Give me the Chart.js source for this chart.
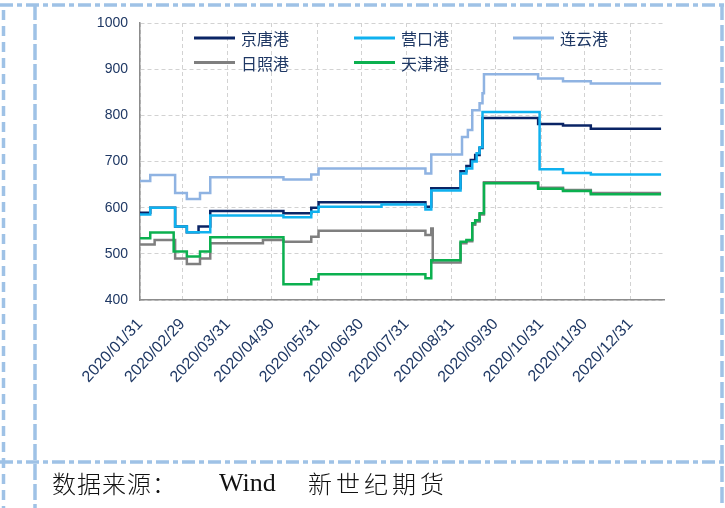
<!DOCTYPE html>
<html>
<head>
<meta charset="utf-8">
<script src="https://cdn.jsdelivr.net/npm/chart.js@4.4.1/dist/chart.umd.min.js"></script>
<style>
  html, body { margin: 0; padding: 0; background: #fff; }
  #wrap { position: relative; width: 725px; height: 508px; overflow: hidden; }
  #c { position: absolute; left: 0; top: 0; }
  .src { position: absolute; top: 469px; font-size: 24px; line-height: 28px; color: #111; white-space: nowrap; }
</style>
</head>
<body>
<div id="wrap">
  <canvas id="c" width="725" height="508"></canvas>
  <span class="src" style="left:52px;font-family:'Noto Sans CJK SC';font-weight:300;letter-spacing:1px">数据来源：</span>
  <span class="src" style="left:219px;font-family:'Liberation Serif';font-size:26px">Wind</span>
  <span class="src" style="left:308px;font-family:'Noto Sans CJK SC';font-weight:300;letter-spacing:4px">新世纪期货</span>
</div>
<script>
// Month-end tick labels along the date axis
const monthEndLabels = [
  '2020/01/31', '2020/02/29', '2020/03/31', '2020/04/30', '2020/05/31', '2020/06/30',
  '2020/07/31', '2020/08/31', '2020/09/30', '2020/10/31', '2020/11/30', '2020/12/31'
];
const axisStart = '2020/01/31';
const axisEnd = '2021/01/23';

const seriesNames = ['京唐港', '营口港', '连云港', '日照港', '天津港'];

// Price series as [date the price took effect, price]
const jingtang = [
  ['2020-01-31', 589], ['2020-02-07', 600], ['2020-02-24', 559], ['2020-03-03', 547],
  ['2020-03-11', 559], ['2020-03-19', 593], ['2020-05-08', 588], ['2020-05-27', 600],
  ['2020-06-01', 612], ['2020-08-13', 602], ['2020-08-17', 642], ['2020-09-06', 679],
  ['2020-09-10', 690], ['2020-09-13', 703], ['2020-09-16', 714], ['2020-09-19', 729],
  ['2020-09-21', 794], ['2020-10-29', 781], ['2020-11-15', 778], ['2020-12-04', 771],
  ['2021-01-21', 771]
];
const yingkou = [
  ['2020-01-31', 585], ['2020-02-07', 600], ['2020-02-24', 559], ['2020-03-03', 547],
  ['2020-03-19', 583], ['2020-05-08', 579], ['2020-05-27', 591], ['2020-06-01', 602],
  ['2020-07-14', 607], ['2020-08-13', 596], ['2020-08-17', 637], ['2020-09-06', 674],
  ['2020-09-10', 685], ['2020-09-14', 700], ['2020-09-17', 718], ['2020-09-19', 731],
  ['2020-09-21', 807], ['2020-10-30', 683], ['2020-11-15', 675], ['2020-12-04', 672],
  ['2021-01-21', 672]
];
const lianyun = [
  ['2020-01-31', 658], ['2020-02-07', 671], ['2020-02-24', 632], ['2020-03-03', 619],
  ['2020-03-12', 632], ['2020-03-19', 666], ['2020-05-08', 661], ['2020-05-27', 672],
  ['2020-06-01', 685], ['2020-08-13', 674], ['2020-08-17', 715], ['2020-09-07', 753],
  ['2020-09-11', 768], ['2020-09-14', 811], ['2020-09-19', 826], ['2020-09-21', 848],
  ['2020-09-22', 889], ['2020-10-29', 880], ['2020-11-15', 874], ['2020-12-04', 869],
  ['2021-01-21', 869]
];
const rizhao = [
  ['2020-01-31', 520], ['2020-02-10', 530], ['2020-02-24', 490], ['2020-03-03', 478],
  ['2020-03-12', 490], ['2020-03-19', 523], ['2020-04-24', 530], ['2020-05-08', 526],
  ['2020-05-27', 537], ['2020-06-01', 550], ['2020-08-13', 541], ['2020-08-17', 555],
  ['2020-08-18', 481], ['2020-09-06', 523], ['2020-09-10', 527], ['2020-09-14', 563],
  ['2020-09-16', 570], ['2020-09-19', 585], ['2020-09-22', 655], ['2020-10-29', 643],
  ['2020-11-15', 638], ['2020-12-04', 632], ['2021-01-21', 632]
];
const tianjin = [
  ['2020-01-31', 534], ['2020-02-07', 546], ['2020-02-23', 505], ['2020-03-03', 494],
  ['2020-03-12', 505], ['2020-03-19', 536], ['2020-05-08', 434], ['2020-05-27', 445],
  ['2020-06-01', 456], ['2020-08-13', 447], ['2020-08-17', 486], ['2020-09-06', 526],
  ['2020-09-10', 530], ['2020-09-14', 566], ['2020-09-16', 573], ['2020-09-19', 588],
  ['2020-09-22', 653], ['2020-10-29', 641], ['2020-11-15', 636], ['2020-12-04', 629],
  ['2021-01-21', 629]
];

const seriesData = [jingtang, yingkou, lianyun, rizhao, tianjin];
const seriesColors = ['#0a2465', '#0fb1ef', '#8fb3e2', '#7f7f7f', '#0bb04f'];
const drawOrder = [5, 2, 3, 4, 1];

function dayNum(s) {
  const [y, m, d] = s.split(/[-\/]/).map(Number);
  return Date.UTC(y, m - 1, d) / 86400000;
}
function fmtDay(n) {
  const dt = new Date(Math.round(n) * 86400000);
  const p = v => String(v).padStart(2, '0');
  return dt.getUTCFullYear() + '/' + p(dt.getUTCMonth() + 1) + '/' + p(dt.getUTCDate());
}
const toPoints = arr => arr.map(([d, v]) => ({ x: dayNum(d), y: v }));

const navy = '#1f3864';

// Dashed page frame behind the chart
const pageFrame = {
  id: 'pageFrame',
  beforeDraw(chart) {
    const ctx = chart.ctx;
    ctx.save();
    ctx.fillStyle = '#fff';
    ctx.fillRect(0, 0, chart.width, chart.height);
    ctx.strokeStyle = '#9fc2e6';
    ctx.lineWidth = 3.5;
    const seg = (x1, y1, x2, y2, dash) => {
      ctx.setLineDash(dash);
      ctx.beginPath(); ctx.moveTo(x1, y1); ctx.lineTo(x2, y2); ctx.stroke();
    };
    seg(0, 5, 725, 5, [13, 4, 5, 4]);
    seg(0, 462, 725, 462, [13, 4, 5, 4]);
    seg(3.5, 10, 3.5, 508, [10, 6]);
    seg(35, 4, 35, 508, [16, 4]);
    seg(722, 4, 722, 508, [16, 5]);
    ctx.restore();
  }
};

// Two-row legend placed inside the plot area
const portLegend = {
  id: 'portLegend',
  afterDraw(chart) {
    const ctx = chart.ctx;
    const cols = [194, 354, 513];
    const rows = [38, 62.5];
    chart.data.datasets.forEach((ds, i) => {
      const x = cols[i % 3];
      const y = rows[Math.floor(i / 3)];
      ctx.save();
      ctx.strokeStyle = ds.borderColor;
      ctx.lineWidth = 3;
      ctx.beginPath(); ctx.moveTo(x, y); ctx.lineTo(x + 41, y); ctx.stroke();
      ctx.fillStyle = navy;
      ctx.font = '16px "Noto Sans CJK SC"';
      ctx.textBaseline = 'middle';
      ctx.fillText(ds.label, x + 47, y + 1);
      ctx.restore();
    });
  }
};

new Chart(document.getElementById('c'), {
  type: 'line',
  data: {
    datasets: seriesNames.map((name, i) => ({
      label: name,
      data: toPoints(seriesData[i]),
      borderColor: seriesColors[i],
      backgroundColor: seriesColors[i],
      borderWidth: 2.5,
      pointRadius: 0,
      stepped: true,
      fill: false,
      order: drawOrder[i]
    }))
  },
  options: {
    responsive: false,
    animation: false,
    layout: { padding: { left: 70, top: 23, right: 61, bottom: 98 } },
    plugins: { legend: { display: false }, tooltip: { enabled: false } },
    scales: {
      x: {
        type: 'linear',
        min: dayNum(axisStart),
        max: dayNum(axisEnd),
        afterBuildTicks: scale => {
          scale.ticks = monthEndLabels.map(s => ({ value: dayNum(s) }));
        },
        afterFit: scale => { scale.height = 110; },
        grid: { color: '#d2d2d2', lineWidth: 1, drawTicks: false },
        border: { display: true, color: '#8c8c8c', width: 1.5, dash: [4, 3] },
        ticks: {
          autoSkip: false,
          maxRotation: 47,
          minRotation: 47,
          padding: 15,
          color: navy,
          font: { family: '"Liberation Sans", Arial, sans-serif', size: 16 },
          callback: v => fmtDay(v)
        }
      },
      y: {
        min: 400,
        max: 1000,
        afterFit: scale => { scale.width = 70; },
        grid: { color: '#d2d2d2', lineWidth: 1, drawTicks: false },
        border: { display: true, color: '#8c8c8c', width: 1.5, dash: [4, 3] },
        ticks: {
          stepSize: 100,
          padding: 12,
          color: navy,
          font: { family: '"Liberation Sans", Arial, sans-serif', size: 14 },
          callback: v => String(v)
        }
      }
    }
  },
  plugins: [pageFrame, portLegend]
});
</script>
</body>
</html>
